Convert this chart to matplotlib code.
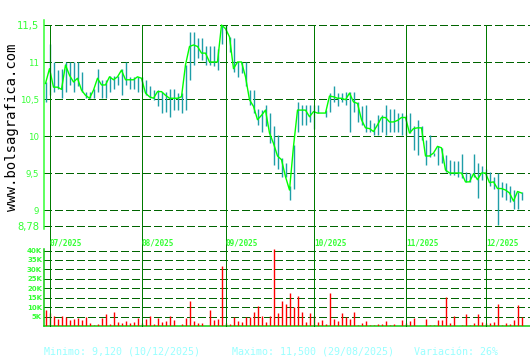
import matplotlib
matplotlib.use("Agg")
import matplotlib.pyplot as plt
from matplotlib.lines import Line2D
from matplotlib.transforms import blended_transform_factory

# daily prices, 30/06/2025 .. 12/12/2025 (one value per trading day)
close = [10.71, 10.91, 10.66, 10.66, 10.63, 10.96, 10.82, 10.73, 10.78, 10.62,
         10.55, 10.51, 10.62, 10.78, 10.69, 10.69, 10.80, 10.76, 10.80, 10.89,
         10.76, 10.76, 10.76, 10.80, 10.78, 10.58, 10.53, 10.51, 10.60, 10.60,
         10.55, 10.51, 10.51, 10.51, 10.53, 10.96, 11.21, 11.23, 11.21, 11.12,
         11.12, 11.00, 11.00, 11.00, 11.50, 11.45, 11.34, 10.91, 11.00, 11.00,
         10.80, 10.49, 10.40, 10.22, 10.28, 10.35, 10.04, 9.90, 9.73, 9.68,
         9.45, 9.27, 9.86, 10.35, 10.35, 10.35, 10.26, 10.33, 10.31, 10.31,
         10.31, 10.54, 10.53, 10.51, 10.51, 10.49, 10.58, 10.46, 10.44, 10.22,
         10.11, 10.10, 10.06, 10.15, 10.25, 10.25, 10.19, 10.19, 10.21, 10.25,
         10.25, 10.04, 10.10, 10.11, 10.11, 9.73, 9.73, 9.77, 9.86, 9.84,
         9.54, 9.50, 9.50, 9.50, 9.50, 9.38, 9.38, 9.49, 9.41, 9.50,
         9.50, 9.37, 9.38, 9.29, 9.29, 9.27, 9.23, 9.12, 9.25, 9.23]

high = [10.73, 11.25, 11.00, 10.89, 10.90, 11.00, 11.00, 11.00, 11.00, 10.87,
        10.60, 10.60, 10.64, 10.90, 10.76, 10.76, 10.81, 10.81, 10.81, 10.90,
        11.00, 10.80, 10.80, 10.80, 10.80, 10.76, 10.67, 10.62, 10.62, 10.60,
        10.60, 10.63, 10.63, 10.58, 10.58, 10.96, 11.41, 11.41, 11.32, 11.32,
        11.21, 11.21, 11.21, 11.18, 11.50, 11.50, 11.34, 11.32, 11.00, 11.00,
        11.00, 10.62, 10.62, 10.37, 10.35, 10.42, 10.31, 10.13, 10.01, 9.70,
        9.63, 9.32, 9.88, 10.46, 10.42, 10.42, 10.42, 10.42, 10.42, 10.31,
        10.35, 10.58, 10.67, 10.58, 10.58, 10.60, 10.60, 10.60, 10.46, 10.40,
        10.42, 10.22, 10.17, 10.28, 10.28, 10.42, 10.37, 10.37, 10.31, 10.31,
        10.28, 10.31, 10.13, 10.22, 10.13, 9.95, 10.01, 9.77, 9.86, 9.84,
        9.74, 9.68, 9.66, 9.66, 9.76, 9.52, 9.50, 9.76, 9.63, 9.59,
        9.55, 9.52, 9.45, 9.50, 9.38, 9.36, 9.32, 9.27, 9.25, 9.25]

low = [10.46, 10.55, 10.60, 10.64, 10.51, 10.60, 10.69, 10.60, 10.67, 10.60,
       10.51, 10.51, 10.51, 10.60, 10.51, 10.51, 10.60, 10.64, 10.69, 10.55,
       10.69, 10.64, 10.64, 10.60, 10.60, 10.55, 10.51, 10.49, 10.40, 10.31,
       10.33, 10.26, 10.35, 10.35, 10.31, 10.35, 10.76, 10.96, 11.05, 11.03,
       10.96, 10.96, 10.94, 10.89, 11.25, 11.39, 11.14, 10.87, 10.80, 10.85,
       10.67, 10.42, 10.31, 10.15, 10.06, 10.13, 9.90, 9.61, 9.56, 9.45,
       9.45, 9.14, 9.29, 10.06, 10.15, 10.15, 10.19, 10.10, 10.31, 10.31,
       10.26, 10.33, 10.46, 10.41, 10.46, 10.42, 10.06, 10.33, 10.19, 10.15,
       10.06, 10.06, 10.01, 10.01, 10.06, 10.01, 10.06, 10.06, 10.06, 10.01,
       10.01, 10.04, 9.81, 9.74, 9.95, 9.61, 9.72, 9.73, 9.61, 9.63,
       9.52, 9.47, 9.47, 9.45, 9.43, 9.38, 9.38, 9.45, 9.16, 9.41,
       9.45, 9.32, 9.29, 8.80, 9.18, 9.14, 9.11, 9.02, 9.02, 9.14]

# volume in thousands
volume = [8.5, 6.9, 5.1, 3.7, 5.1, 4.6, 3.2, 3.7, 4.2, 3.4,
          4.8, 1.6, 0.5, 1.1, 4.2, 6.4, 1.1, 7.4, 2.1, 1.6,
          2.7, 1.6, 2.1, 4.2, 1.6, 3.7, 5.1, 1.1, 4.2, 2.1,
          2.7, 5.1, 3.2, 0.2, 1.1, 4.2, 13.3, 2.7, 1.6, 1.6,
          0.2, 8.5, 3.2, 3.7, 31.8, 1.6, 1.1, 4.8, 2.7, 2.1,
          4.8, 4.8, 7.4, 10.6, 5.1, 2.1, 5.1, 41.0, 6.9, 13.3,
          11.7, 17.5, 9.9, 15.9, 7.4, 2.1, 6.9, 5.5, 2.1, 3.2,
          1.1, 17.5, 3.7, 2.7, 6.9, 4.8, 3.7, 7.4, 0.5, 1.6,
          2.7, 0.5, 0.5, 1.1, 1.1, 2.7, 0.5, 1.1, 0.1, 3.2,
          1.6, 2.7, 4.2, 0.2, 0.2, 3.7, 0.5, 0.5, 3.2, 3.2,
          15.4, 1.6, 5.1, 0.2, 0.5, 6.4, 0.5, 1.6, 6.4, 2.1,
          1.6, 1.6, 2.1, 11.7, 0.5, 1.6, 1.1, 3.2, 11.1, 4.8]

month_start = [1, 24, 45, 67, 90, 110]
month_labels = ["07/2025", "08/2025", "09/2025", "10/2025", "11/2025", "12/2025"]

price_ticks = [8.78, 9, 9.5, 10, 10.5, 11, 11.5]
price_labels = ["8,78", "9", "9,5", "10", "10,5", "11", "11,5"]
vol_ticks = [5, 10, 15, 20, 25, 30, 35, 40]
vol_labels = ["5K", "10K", "15K", "20K", "25K", "30K", "35K", "40K"]

W, H = 530, 360
LIME = "#33ff33"
DARK = "#006400"
PX = 0.72  # one pixel in points at 100 dpi
days = list(range(len(close)))


def box(l, t, r, b):
    return [l / W, 1 - b / H, (r - l) / W, (b - t) / H]


fig = plt.figure(figsize=(W / 100, H / 100), dpi=100)
fig.patch.set_facecolor("white")

# day k sits at pixel centre 45.5 + 4k
ax = fig.add_axes(box(43.5, 20, 530, 229))
axv = fig.add_axes(box(43.5, 249, 530, 326))

for a in (ax, axv):
    a.set_xlim(-0.5, 121.125)
    a.set_facecolor("white")
    for s in a.spines.values():
        s.set_visible(False)
    a.set_xticks([])

# price panel, 74 px per unit, 11.5 at y=25
ax.set_ylim(11.5 - (229 - 25) / 74, 11.5 + 5 / 74)
ax.spines["left"].set_visible(True)
ax.spines["left"].set_color(LIME)
ax.spines["left"].set_linewidth(1.1)
ax.set_yticks(price_ticks)
ax.set_yticklabels(price_labels)
ax.tick_params(axis="y", length=0, pad=3, colors=LIME)
for lab in ax.get_yticklabels():
    big = lab.get_text() in ("11,5", "8,78")
    lab.set_fontsize(7.2 if big else 6.2)
    lab.set_color(LIME)
for t in price_ticks:
    ax.axhline(t, color=DARK, lw=PX, linestyle=(0, (7, 4)), antialiased=False, zorder=1)

ax.vlines(days, low, high, color="#1e9ea8", lw=1.0, zorder=2)
ax.plot(days, close, color="#00ff00", lw=1.0, zorder=3)

# volume panel
axv.set_ylim(0, (326 - 249) / 1.8875)
for side in ("left", "bottom"):
    axv.spines[side].set_visible(True)
    axv.spines[side].set_color("#11cc11")
    axv.spines[side].set_linewidth(1.1)
axv.set_yticks(vol_ticks)
axv.set_yticklabels(vol_labels)
axv.tick_params(axis="y", length=0, pad=1, colors=LIME, labelsize=5)
for lab in axv.get_yticklabels():
    lab.set_fontweight("bold")
for t in vol_ticks:
    axv.axhline(t, color=DARK, lw=PX, linestyle=(0, (7, 4)), antialiased=False, zorder=1)
axv.vlines(days, 0, volume, color="#ff0000", lw=1.0, zorder=3)

# month separators across both panels
tr = blended_transform_factory(ax.transData, fig.transFigure)
for m, lbl in zip(month_start, month_labels):
    fig.add_artist(Line2D([m, m], [1 - 25 / H, 1 - 326 / H], transform=tr,
                          color="#007a00", lw=PX, antialiased=False, zorder=1))
    fig.text(m + 0.1, 1 - 243 / H, lbl, transform=tr, ha="left", va="center",
             family="DejaVu Sans Mono", fontweight="bold", fontsize=5.6, color=LIME)

fig.text(12 / W, 1 - 127 / H, "www.bolsagrafica.com", rotation=90,
         family="DejaVu Sans Mono", fontsize=10, ha="center", va="center", color="black")

foot = "#99ffff"
fig.text(44.5 / W, 1 - 352 / H, "Minimo: 9,120 (10/12/2025)", family="DejaVu Sans Mono",
         fontsize=7.2, color=foot, va="center")
fig.text(231.5 / W, 1 - 352 / H, "Maximo: 11,500 (29/08/2025)", family="DejaVu Sans Mono",
         fontsize=7.2, color=foot, va="center")
fig.text(414 / W, 1 - 352 / H, "Variación: 26%", family="DejaVu Sans Mono",
         fontsize=7.2, color=foot, va="center")

fig.savefig("out.png", dpi=100, facecolor="white")
